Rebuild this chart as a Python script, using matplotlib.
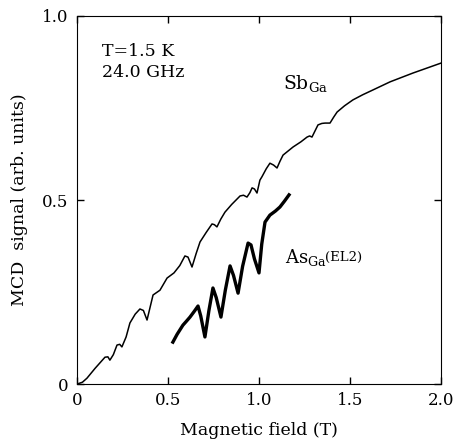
import matplotlib.pyplot as plt

plt.rcParams['font.family'] = 'DejaVu Serif'
plt.rcParams['mathtext.fontset'] = 'custom'
plt.rcParams['mathtext.rm'] = 'DejaVu Serif'

# Sb_Ga curve (field in T, signal)
sb_field = [0.0, 0.03, 0.055, 0.10, 0.154, 0.17, 0.181, 0.20, 0.220, 0.235, 0.247,
            0.27, 0.291, 0.32, 0.346, 0.365, 0.385, 0.40, 0.418, 0.456, 0.495,
            0.533, 0.565, 0.593, 0.61, 0.632, 0.655, 0.676, 0.71, 0.742, 0.755,
            0.769, 0.79, 0.813, 0.85, 0.896, 0.915, 0.934, 0.95, 0.962, 0.975,
            0.989, 1.005, 1.016, 1.04, 1.060, 1.08, 1.099, 1.115, 1.132, 1.187,
            1.23, 1.264, 1.278, 1.291, 1.31, 1.324, 1.345, 1.363, 1.39, 1.41,
            1.429, 1.47, 1.516, 1.57, 1.626, 1.72, 1.846, 2.0]
sb_signal = [0.0, 0.005, 0.016, 0.043, 0.073, 0.074, 0.065, 0.080, 0.106, 0.108, 0.101,
             0.128, 0.166, 0.190, 0.204, 0.200, 0.174, 0.205, 0.242, 0.255, 0.288,
             0.302, 0.322, 0.348, 0.345, 0.318, 0.355, 0.386, 0.412, 0.435, 0.433,
             0.427, 0.448, 0.467, 0.488, 0.511, 0.513, 0.508, 0.520, 0.533, 0.530,
             0.519, 0.554, 0.563, 0.585, 0.600, 0.595, 0.587, 0.605, 0.622, 0.644,
             0.658, 0.671, 0.674, 0.671, 0.690, 0.704, 0.708, 0.709, 0.709, 0.725,
             0.739, 0.756, 0.772, 0.786, 0.799, 0.821, 0.845, 0.872]

# As_Ga (EL2) curve
as_field = [0.527, 0.55, 0.582, 0.60, 0.621, 0.645, 0.665, 0.68, 0.703, 0.725,
            0.747, 0.765, 0.791, 0.815, 0.841, 0.86, 0.885, 0.91, 0.940, 0.956,
            0.975, 1.0, 1.015, 1.033, 1.060, 1.09, 1.115, 1.14, 1.165]
as_signal = [0.114, 0.135, 0.160, 0.170, 0.182, 0.198, 0.212, 0.185, 0.128, 0.200,
             0.261, 0.235, 0.182, 0.255, 0.321, 0.295, 0.247, 0.320, 0.383, 0.378,
             0.340, 0.302, 0.380, 0.440, 0.459, 0.470, 0.481, 0.497, 0.514]

fig = plt.figure(figsize=(4.58, 4.43), dpi=100)
ax = fig.add_axes([0.168, 0.133, 0.795, 0.831])

ax.plot(sb_field, sb_signal, color='black', lw=1.1)
ax.plot(as_field, as_signal, color='black', lw=2.4)

ax.set_xlim(0, 2.0)
ax.set_ylim(0, 1.0)
ax.set_xticks([0, 0.5, 1.0, 1.5, 2.0])
ax.set_xticklabels(['0', '0.5', '1.0', '1.5', '2.0'])
ax.set_yticks([0, 0.5, 1.0])
ax.set_yticklabels(['0', '0.5', '1.0'])
ax.tick_params(direction='in', top=True, right=True, length=5, width=1,
               labelsize=12, pad=6)

ax.set_xlabel('Magnetic field (T)', fontsize=12.5, labelpad=9)
ax.set_ylabel('MCD  signal (arb. units)', fontsize=12.5, labelpad=10)

ax.text(0.137, 0.927, 'T=1.5 K\n24.0 GHz', fontsize=12.5, va='top', ha='left',
        linespacing=1.3)
ax.text(1.13, 0.80, r'Sb$_{\mathrm{Ga}}$', fontsize=13.5, va='baseline')
ax.text(1.143, 0.329, r'As$_{\mathrm{Ga}}$', fontsize=13, va='baseline')
ax.text(1.363, 0.335, '(EL2)', fontsize=9.5, va='baseline')

fig.savefig('out.png', dpi=100)
